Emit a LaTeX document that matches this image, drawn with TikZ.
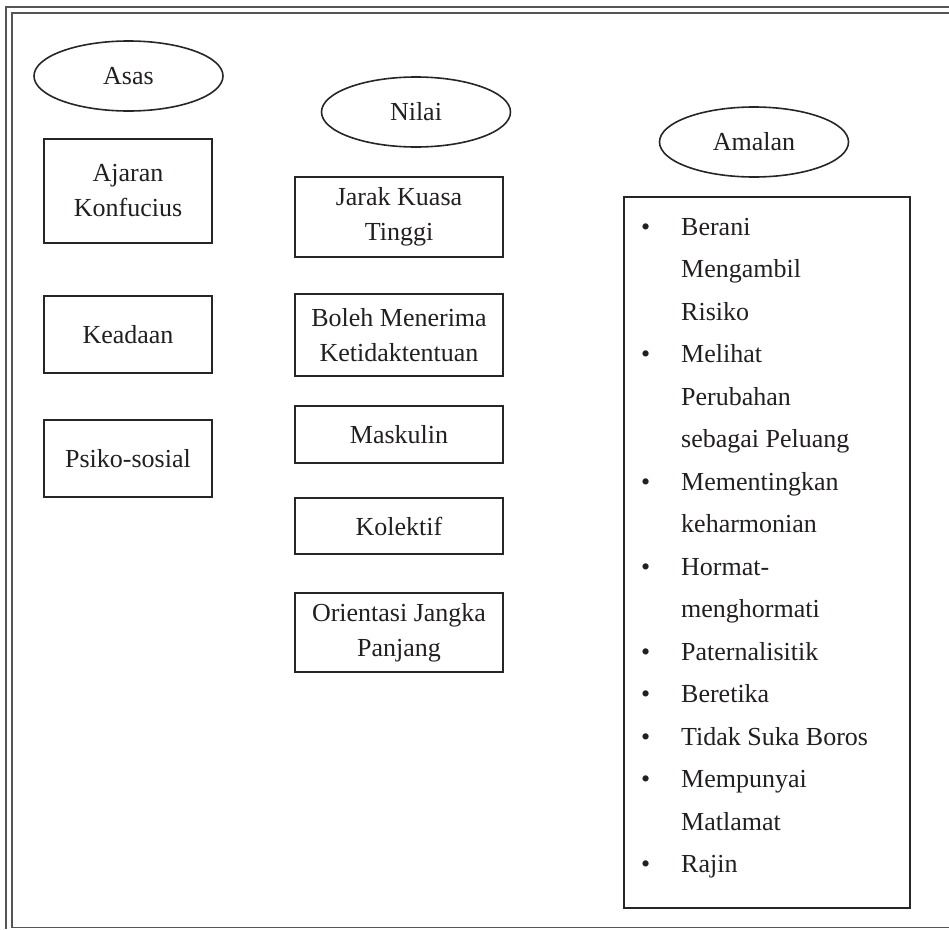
\documentclass[tikz,border=0pt]{standalone}
\usepackage{fontspec}
\setmainfont{Liberation Serif}
\usetikzlibrary{shapes.geometric}
\definecolor{linecol}{HTML}{262626}
\definecolor{framecol}{HTML}{555555}
\definecolor{txtcol}{HTML}{231F20}
\begin{document}
\begin{tikzpicture}[x=1pt,y=-1pt,
  lbl/.style={font=\fontsize{26}{35}\selectfont, text=txtcol},
  oval/.style={ellipse, draw=linecol, line width=1.6pt, minimum width=189pt, minimum height=70pt, inner sep=0pt, lbl},
  box/.style={rectangle, draw=linecol, line width=1.8pt, inner sep=0pt, align=center, lbl},
  frameline/.style={draw=framecol, line width=1.5pt}]
\useasboundingbox (0,0) rectangle (949,929);
% double frame (cropped at right and bottom)
\coordinate (fo1) at (6,929);
\coordinate (fo2) at (6,7);
\coordinate (fo3) at (949,7);
\coordinate (fi1) at (949,927.5);
\coordinate (fi2) at (12,927.5);
\coordinate (fi3) at (12,13);
\coordinate (fi4) at (949,13);
\draw[frameline] (fo1) -- (fo2) -- (fo3);
\draw[frameline] (fi1) -- (fi2) -- (fi3) -- (fi4);
% headings
\node[oval] (asas) at (128.5,76) {Asas};
\node[oval] (nilai) at (416,112) {Nilai};
\node[oval] (amalan) at (754,142) {Amalan};
% Asas column
\node[box, minimum width=168pt, minimum height=104pt] (ajaran) at (128,191) {Ajaran\\Konfucius};
\node[box, minimum width=168pt, minimum height=77pt] (keadaan) at (128,334.5) {Keadaan};
\node[box, minimum width=168pt, minimum height=77pt] (psiko) at (128,458.5) {Psiko-sosial};
% Nilai column
\node[box, minimum width=208pt, minimum height=80pt] (jarak) at (399,217) {Jarak Kuasa\\Tinggi};
\node[box, minimum width=208pt, minimum height=82pt] (boleh) at (399,335) {Boleh Menerima\\Ketidaktentuan};
\node[box, minimum width=208pt, minimum height=57pt] (maskulin) at (399,434.5) {Maskulin};
\node[box, minimum width=208pt, minimum height=56pt] (kolektif) at (399,526) {Kolektif};
\node[box, minimum width=208pt, minimum height=79pt] (orientasi) at (399,632.5) {Orientasi Jangka\\Panjang};
% Amalan list
\node[box, minimum width=286pt, minimum height=711pt, anchor=north west] (amalanbox) at (623,196) {};
\node[lbl, anchor=base west, inner sep=0pt] (amalanlist) at (641,235) {\fontsize{26}{42.5}\selectfont
\begin{tabular}[t]{@{}p{40pt}@{}l@{}}
\textbullet & Berani\\
 & Mengambil\\
 & Risiko\\
\textbullet & Melihat\\
 & Perubahan\\
 & sebagai Peluang\\
\textbullet & Mementingkan\\
 & keharmonian\\
\textbullet & Hormat-\\
 & menghormati\\
\textbullet & Paternalisitik\\
\textbullet & Beretika\\
\textbullet & Tidak Suka Boros\\
\textbullet & Mempunyai\\
 & Matlamat\\
\textbullet & Rajin
\end{tabular}};
\end{tikzpicture}
\end{document}
